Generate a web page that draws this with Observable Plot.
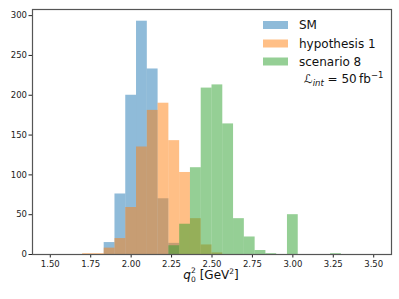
<!DOCTYPE html>
<html>
<head>
<meta charset="utf-8">
<script src="https://cdn.jsdelivr.net/npm/d3@7"></script>
<script src="https://cdn.jsdelivr.net/npm/@observablehq/plot@0.6"></script>
<style>
  html, body { margin: 0; padding: 0; background: #fff; }
  #chart svg { display: block; }
</style>
</head>
<body>
<div id="chart"></div>
<script>
// Histogram bin edges (30 bins between 1.5 and 3.5)
const binEdges = [1.5000, 1.5667, 1.6333, 1.7000, 1.7667, 1.8333, 1.9000, 1.9667, 2.0333, 2.1000,
                  2.1667, 2.2333, 2.3000, 2.3667, 2.4333, 2.5000, 2.5667, 2.6333, 2.7000, 2.7667,
                  2.8333, 2.9000, 2.9667, 3.0333, 3.1000, 3.1667, 3.2333, 3.3000, 3.3667, 3.4333, 3.5000];
const seriesNames = ["SM", "hypothesis 1", "scenario 8"];
const smCounts   = [0,0,0,0,0,15,76,200,293,233,70,14,0,0,0,0,0,0,0,0,0,0,0,0,0,0,0,0,0,0];
const hypCounts  = [0,0,0,1,1,8,20,59,135,181,190,143,103,45,12,2,0,0,0,0,0,0,0,0,0,0,0,0,0,0];
const scenCounts = [0,0,0,0,0,0,0,0,0,0,0,11,38,109,209,213,164,45,22,5,1,0,50,0,0,0,1,0,0,0];
const xTicks = [1.50, 1.75, 2.00, 2.25, 2.50, 2.75, 3.00, 3.25, 3.50];
const yTicks = [0, 50, 100, 150, 200, 250, 300];
const colors = ["#1f77b4", "#ff7f0e", "#2ca02c"];
const legendColors = ["#8fbbd9", "#ffbf86", "#95cf95"];

function toRows(counts, name) {
  return counts.map((c, i) => ({x1: binEdges[i], x2: binEdges[i + 1], count: c, series: name}));
}
const rows = [toRows(smCounts, seriesNames[0]), toRows(hypCounts, seriesNames[1]), toRows(scenCounts, seriesNames[2])];

const font = "DejaVu Sans, Liberation Sans, sans-serif";
const chart = Plot.plot({
  width: 399,
  height: 299,
  marginLeft: 32,
  marginRight: 8,
  marginTop: 9,
  marginBottom: 45,
  style: {fontFamily: font, fontSize: "8.5px", color: "#222", background: "#fff"},
  x: {domain: [1.39, 3.61]},
  y: {domain: [0, 307.7]},
  marks: [
    ...rows.map((r, i) => Plot.rectY(r.filter(d => d.count > 0), {x1: "x1", x2: "x2", y: "count", fill: colors[i], fillOpacity: 0.5, inset: 0})),
    Plot.axisX({ticks: xTicks, tickFormat: d => d.toFixed(2), tickSize: 3.5, tickPadding: 2.5, label: null, stroke: "#222"}),
    Plot.axisY({ticks: yTicks, tickFormat: d => String(d), tickSize: 3.5, tickPadding: 2, label: null, stroke: "#222"}),
    Plot.frame({stroke: "#555", strokeWidth: 1.2})
  ]
});
document.getElementById("chart").appendChild(chart);

const svg = d3.select(chart);
// Legend
const legendX = 263, legendTextX = 299, legendY = [25, 43.5, 61.5];
seriesNames.forEach((name, i) => {
  svg.append("rect").attr("x", legendX).attr("y", legendY[i] - 4).attr("width", 25).attr("height", 8)
    .attr("fill", legendColors[i]);
  svg.append("text").attr("x", legendTextX).attr("y", legendY[i] + 4.2).attr("text-anchor", "start")
    .attr("font-family", font).attr("font-size", "12px").attr("fill", "#111").text(name);
});
// Luminosity annotation
const lum = svg.append("text").attr("x", 304).attr("y", 83).attr("text-anchor", "start").attr("font-family", font)
  .attr("font-size", "12px").attr("fill", "#111");
lum.append("tspan").attr("font-style", "italic").text("ℒ");
lum.append("tspan").attr("font-style", "italic").attr("font-size", "8.5px").attr("dy", 2.5).text("int");
lum.append("tspan").attr("dy", -2.5).text(" = 50\u2009fb");
lum.append("tspan").attr("font-size", "8.5px").attr("dy", -5).text("\u22121");

// X axis label
const xl = svg.append("text").attr("x", 211).attr("y", 279).attr("text-anchor", "middle")
  .attr("font-family", font).attr("font-size", "12px").attr("fill", "#111");
xl.append("tspan").attr("font-style", "italic").text("q");
xl.append("tspan").attr("font-size", "7.5px").attr("dy", 3).text("0");
xl.append("tspan").attr("font-size", "7.5px").attr("dx", -4.6).attr("dy", -9.3).text("2");
xl.append("tspan").attr("dy", 6.3).text(" [GeV");
xl.append("tspan").attr("font-size", "7.5px").attr("dy", -5).text("2");
xl.append("tspan").attr("dy", 5).text("]");
</script>
</body>
</html>
